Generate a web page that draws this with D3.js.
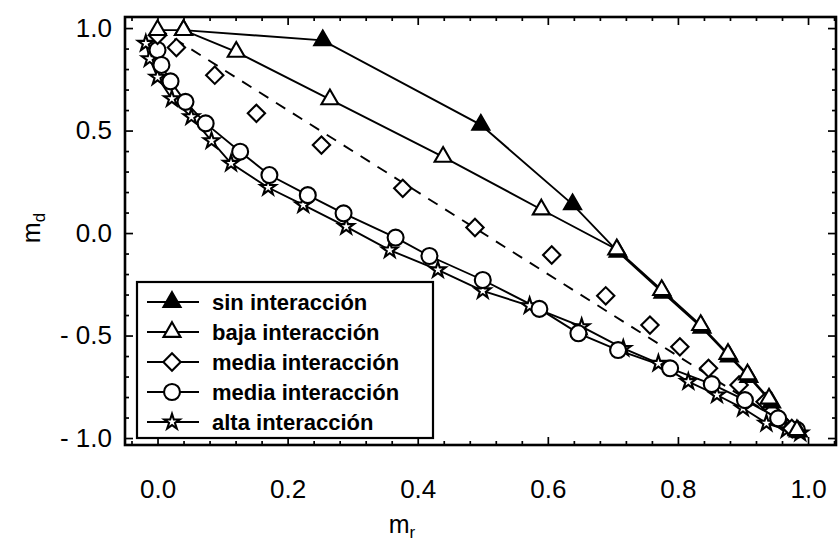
<!DOCTYPE html>
<html>
<head>
<meta charset="utf-8">
<script src="https://cdn.jsdelivr.net/npm/d3@7"></script>
<style>
  body { margin: 0; background: #fff; }
  text { font-family: "Liberation Sans", Arial, Helvetica, sans-serif; fill: #000; }
</style>
</head>
<body>
<svg id="chart" width="839" height="550"></svg>
<script>
// m_r (x) and m_d (y) for each interaction level
const sinX  = [0.040, 0.254, 0.497, 0.638, 0.708, 0.777, 0.837, 0.879, 0.909, 0.944, 0.985];
const sinY  = [0.990, 0.940, 0.528, 0.140, -0.092, -0.292, -0.462, -0.602, -0.702, -0.827, -0.968];

const bajaX = [0.000, 0.040, 0.121, 0.265, 0.439, 0.590, 0.706, 0.775, 0.835, 0.877, 0.907, 0.940, 0.983];
const bajaY = [0.990, 0.990, 0.884, 0.652, 0.372, 0.115, -0.080, -0.278, -0.449, -0.590, -0.690, -0.808, -0.962];

const diamX = [0.000, 0.029, 0.088, 0.152, 0.252, 0.377, 0.488, 0.606, 0.689, 0.757, 0.803, 0.847, 0.894, 0.934, 0.975];
const diamY = [0.965, 0.905, 0.770, 0.584, 0.429, 0.218, 0.027, -0.107, -0.306, -0.449, -0.555, -0.660, -0.741, -0.823, -0.953];

const circX = [0.000, 0.006, 0.020, 0.043, 0.074, 0.127, 0.172, 0.231, 0.286, 0.366, 0.418, 0.500, 0.587, 0.647, 0.708, 0.788, 0.852, 0.903, 0.954, 0.983];
const circY = [0.893, 0.820, 0.740, 0.640, 0.535, 0.397, 0.283, 0.185, 0.096, -0.022, -0.112, -0.229, -0.370, -0.489, -0.571, -0.660, -0.737, -0.815, -0.904, -0.960];

const altaX = [-0.018, -0.012, 0.000, 0.022, 0.052, 0.083, 0.113, 0.170, 0.224, 0.290, 0.357, 0.431, 0.500, 0.572, 0.652, 0.716, 0.770, 0.816, 0.860, 0.900, 0.936, 0.967, 0.988];
const altaY = [0.925, 0.850, 0.760, 0.655, 0.567, 0.450, 0.340, 0.222, 0.137, 0.031, -0.083, -0.180, -0.282, -0.355, -0.457, -0.563, -0.636, -0.725, -0.790, -0.855, -0.928, -0.960, -0.976];

// dashed reference line m_d = 1 - 2 m_r
const refX = [0.0, 0.985];
const refY = [1.0, -0.97];

const legendLabels = ["sin interacción", "baja interacción", "media interacción", "media interacción", "alta interacción"];

const xMajor = [0, 0.2, 0.4, 0.6, 0.8, 1.0];
const xMajorLabels = ["0.0", "0.2", "0.4", "0.6", "0.8", "1.0"];
const yMajor = [-1, -0.5, 0, 0.5, 1];
const yMajorLabels = ["- 1.0", "- 0.5", "0.0", "0.5", "1.0"];

const svg = d3.select("#chart");
const L = 125, R = 836, T = 17, B = 445;

const x = d3.scaleLinear().domain([-0.05, 1.043]).range([L, R]);
const y = d3.scaleLinear().domain([-1.034, 1.054]).range([B, T]);

const xMinor = d3.range(-0.04, 1.041, 0.04).map(v => +v.toFixed(2)).filter(v => !xMajor.some(m => Math.abs(m - v) < 1e-6));
const yMinor = d3.range(-1.0, 1.001, 0.1).map(v => +v.toFixed(2)).filter(v => !yMajor.some(m => Math.abs(m - v) < 1e-6));

function styleAxis(g) {
  g.select(".domain").remove();
  g.selectAll(".tick line").attr("stroke", "#000").attr("stroke-width", 1.7);
  g.selectAll("text").style("font-size", "26px").attr("fill", "#000");
}

// bottom axis (labelled) and its minor ticks
svg.append("g").attr("transform", `translate(0,${B})`)
  .call(d3.axisBottom(x).tickValues(xMajor).tickSize(-8).tickPadding(35)
        .tickFormat((d, i) => xMajorLabels[i]))
  .call(styleAxis);
svg.append("g").attr("transform", `translate(0,${B})`)
  .call(d3.axisBottom(x).tickValues(xMinor).tickSize(-4).tickFormat(""))
  .call(styleAxis);
// top ticks
svg.append("g").attr("transform", `translate(0,${T})`)
  .call(d3.axisTop(x).tickValues(xMajor).tickSize(-8).tickFormat(""))
  .call(styleAxis);
svg.append("g").attr("transform", `translate(0,${T})`)
  .call(d3.axisTop(x).tickValues(xMinor).tickSize(-4).tickFormat(""))
  .call(styleAxis);
// left axis (labelled) and minor ticks
svg.append("g").attr("transform", `translate(${L},0)`)
  .call(d3.axisLeft(y).tickValues(yMajor).tickSize(-8).tickPadding(13)
        .tickFormat((d, i) => yMajorLabels[i]))
  .call(styleAxis);
svg.append("g").attr("transform", `translate(${L},0)`)
  .call(d3.axisLeft(y).tickValues(yMinor).tickSize(-4).tickFormat(""))
  .call(styleAxis);
// right ticks
svg.append("g").attr("transform", `translate(${R},0)`)
  .call(d3.axisRight(y).tickValues(yMajor).tickSize(-8).tickFormat(""))
  .call(styleAxis);
svg.append("g").attr("transform", `translate(${R},0)`)
  .call(d3.axisRight(y).tickValues(yMinor).tickSize(-4).tickFormat(""))
  .call(styleAxis);

// frame
svg.append("rect").attr("x", L).attr("y", T).attr("width", R - L).attr("height", B - T)
  .attr("fill", "none").attr("stroke", "#000").attr("stroke-width", 2.6);

// axis titles
const xt = svg.append("text").attr("x", 402).attr("y", 533).attr("text-anchor", "middle").style("font-size", "25px");
xt.append("tspan").text("m");
xt.append("tspan").attr("dy", 5).style("font-size", "17px").text("r");

const yt = svg.append("text").attr("transform", "translate(40,228) rotate(-90)").attr("text-anchor", "middle").style("font-size", "25px");
yt.append("tspan").text("m");
yt.append("tspan").attr("dy", 5).style("font-size", "17px").text("d");

const zip = (xs, ys) => xs.map((v, i) => [v, ys[i]]);
const line = d3.line().x(d => x(d[0])).y(d => y(d[1]));

const plot = svg.append("g");

// reference line
plot.append("path").datum(zip(refX, refY)).attr("d", line)
  .attr("fill", "none").attr("stroke", "#000").attr("stroke-width", 1.9).attr("stroke-dasharray", "11,9");

const series = [
  { xs: sinX,  ys: sinY,  sym: d3.symbolTriangle, size: 125, fill: "#000", rot: 0,  line: true },
  { xs: bajaX, ys: bajaY, sym: d3.symbolTriangle, size: 125, fill: "#fff", rot: 0,  line: true },
  { xs: diamX, ys: diamY, sym: d3.symbolSquare,   size: 150, fill: "#fff", rot: 45, line: false },
  { xs: circX, ys: circY, sym: d3.symbolCircle,   size: 200, fill: "#fff", rot: 0,  line: true },
  { xs: altaX, ys: altaY, sym: d3.symbolStar,     size: 75,  fill: "#fff", rot: 0,  line: true }
];

series.forEach(s => {
  if (s.line) {
    plot.append("path").datum(zip(s.xs, s.ys)).attr("d", line)
      .attr("fill", "none").attr("stroke", "#000").attr("stroke-width", 1.9);
  }
});
// markers drawn after all lines so the open ones mask what is beneath
[4, 3, 2, 0, 1].forEach(k => {
  const s = series[k];
  plot.append("g").selectAll("path").data(zip(s.xs, s.ys)).join("path")
    .attr("d", d3.symbol().type(s.sym).size(s.size))
    .attr("transform", d => `translate(${x(d[0])},${y(d[1])}) rotate(${s.rot})`)
    .attr("fill", s.fill).attr("stroke", "#000").attr("stroke-width", 2.1);
});

// legend
const lg = svg.append("g");
lg.append("rect").attr("x", 137).attr("y", 282).attr("width", 296).attr("height", 156)
  .attr("fill", "#fff").attr("stroke", "#000").attr("stroke-width", 2.2);
legendLabels.forEach((lab, i) => {
  const s = series[i];
  const cy = 302 + i * 30;
  lg.append("line").attr("x1", 147).attr("x2", 199).attr("y1", cy).attr("y2", cy)
    .attr("stroke", "#000").attr("stroke-width", 1.9);
  lg.append("path").attr("d", d3.symbol().type(s.sym).size(s.size))
    .attr("transform", `translate(172,${cy}) rotate(${s.rot})`)
    .attr("fill", s.fill).attr("stroke", "#000").attr("stroke-width", 2.1);
  lg.append("text").attr("x", 212).attr("y", cy).attr("dy", "0.35em")
    .style("font-size", "22px").style("font-weight", "bold").text(lab);
});
</script>
</body>
</html>
